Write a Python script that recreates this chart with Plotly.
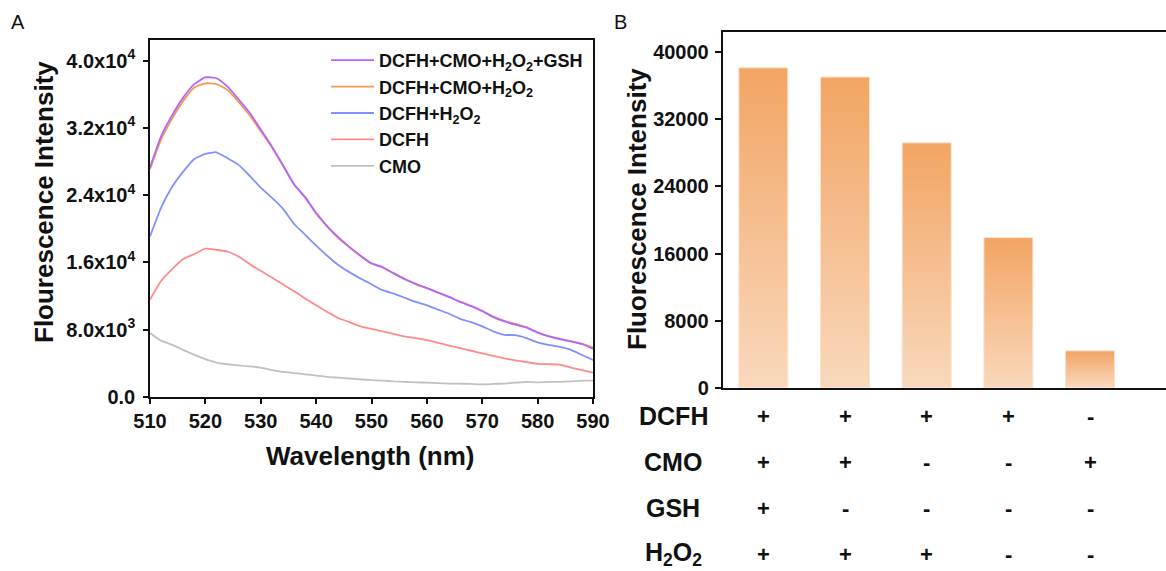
import plotly.graph_objects as go

# ---------------- Data ----------------
wavelength = [510, 512, 514, 516, 518, 520, 522, 524, 526, 528, 530, 532, 534, 536, 538,
              540, 542, 544, 546, 548, 550, 552, 554, 556, 558, 560, 562, 564, 566, 568,
              570, 572, 574, 576, 578, 580, 582, 584, 586, 588, 590]

dcfh_cmo_h2o2_gsh = [27300, 31000, 33500, 35600, 37200, 38000, 37900, 36900, 35400, 33800,
                     31800, 29800, 27600, 25300, 23800, 21900, 20300, 19000, 17850, 16800,
                     15900, 15450, 14700, 14000, 13450, 12950, 12400, 11900, 11300, 10800,
                     10200, 9500, 9000, 8600, 8250, 7650, 7200, 6870, 6600, 6300, 5700]

dcfh_cmo_h2o2 = [27100, 30600, 33100, 35200, 36800, 37300, 37200, 36500, 35100, 33500,
                 31600, 29700, 27500, 25300, 23700, 21800, 20300, 18900, 17800, 16800,
                 15850, 15400, 14700, 14050, 13400, 12950, 12450, 11900, 11350, 10850,
                 10250, 9550, 9050, 8700, 8300, 7700, 7250, 6950, 6650, 6350, 5900]

dcfh_h2o2 = [19100, 22500, 25000, 26800, 28300, 28900, 29100, 28400, 27600, 26300,
             24900, 23700, 22400, 20600, 19300, 18000, 16800, 15700, 14850, 14100,
             13400, 12700, 12300, 11800, 11300, 10900, 10400, 9900, 9300, 8900,
             8400, 7800, 7400, 7350, 7000, 6500, 6200, 5950, 5600, 5000, 4400]

dcfh = [11600, 13800, 15200, 16400, 17000, 17650, 17500, 17300, 16700, 15800,
        15000, 14200, 13400, 12600, 11700, 10900, 10100, 9400, 8900, 8400,
        8100, 7800, 7500, 7200, 7000, 6750, 6450, 6100, 5800, 5500,
        5200, 4900, 4600, 4350, 4150, 3950, 3900, 3850, 3500, 3200, 2900]

cmo = [7600, 6700, 6200, 5600, 5000, 4500, 4100, 3900, 3750, 3650,
       3500, 3200, 3000, 2850, 2700, 2550, 2400, 2300, 2200, 2100,
       2000, 1950, 1850, 1800, 1750, 1700, 1650, 1600, 1600, 1550,
       1500, 1550, 1600, 1700, 1800, 1750, 1800, 1800, 1850, 1950, 1950]

series_names = ["DCFH+CMO+H<sub>2</sub>O<sub>2</sub>+GSH", "DCFH+CMO+H<sub>2</sub>O<sub>2</sub>",
                "DCFH+H<sub>2</sub>O<sub>2</sub>", "DCFH", "CMO"]
series_colors = ["#B266FF", "#F39B4F", "#8090FF", "#FF8A8A", "#C0C0C0"]

a_ytickvals = [0, 8000, 16000, 24000, 32000, 40000]
a_yticktext = ["0.0", "8.0x10<sup>3</sup>", "1.6x10<sup>4</sup>", "2.4x10<sup>4</sup>",
               "3.2x10<sup>4</sup>", "4.0x10<sup>4</sup>"]
a_xtickvals = [510, 520, 530, 540, 550, 560, 570, 580, 590]

bar_values = [38150, 37050, 29200, 17900, 4400]
b_ytickvals = [0, 8000, 16000, 24000, 32000, 40000]
b_yticktext = ["0", "8000", "16000", "24000", "32000", "40000"]

row_labels = ["DCFH", "CMO", "GSH", "H<sub>2</sub>O<sub>2</sub>"]
row_signs = [["+", "+", "+", "+", "-"],
             ["+", "+", "-", "-", "+"],
             ["+", "-", "-", "-", "-"],
             ["+", "+", "+", "-", "-"]]

# ---------------- Layout constants ----------------
W, H = 1166, 571
FONT = "Liberation Sans, Arial, sans-serif"

def px_x(p):
    return p / W

def px_y(p):
    return 1 - p / H

fig = go.Figure()

all_series = [dcfh_cmo_h2o2_gsh, dcfh_cmo_h2o2, dcfh_h2o2, dcfh, cmo]
for idx in reversed(range(len(all_series))):
    fig.add_trace(go.Scatter(
        x=wavelength, y=all_series[idx], mode="lines", name=series_names[idx],
        line=dict(color=series_colors[idx], width=1.8, shape="spline", smoothing=0.5),
        legendrank=idx + 1, xaxis="x", yaxis="y"))

for i, v in enumerate(bar_values):
    hw = 0.3
    fig.add_trace(go.Scatter(
        x=[i - hw, i + hw, i + hw, i - hw, i - hw], y=[0, 0, v, v, 0],
        mode="lines", fill="toself", showlegend=False,
        line=dict(color="#FCE3CE", width=1),
        fillgradient=dict(type="vertical", start=0, stop=v,
                          colorscale=[[0, "#F9D8BC"], [0.55, "#F5BC8C"], [1, "#F2A563"]]),
        xaxis="x2", yaxis="y2", hoverinfo="skip"))

axis_font = dict(family=FONT, size=20, color="#111", weight="bold")

fig.update_layout(
    template="none",
    width=W, height=H, margin=dict(l=0, r=0, t=0, b=0, pad=0, autoexpand=False),
    paper_bgcolor="white", plot_bgcolor="white",
    font=dict(family=FONT, color="#111"),
    xaxis=dict(domain=[px_x(150), px_x(593)], range=[510, 590], tickvals=a_xtickvals,
               showline=True, linecolor="#111", linewidth=1.5, mirror=True,
               ticks="outside", ticklen=5, tickwidth=1.5, tickcolor="#111",
               showgrid=False, zeroline=False, tickfont=axis_font, anchor="y",
               automargin=False),
    yaxis=dict(domain=[px_y(397), px_y(40)], range=[0, 42450], tickvals=a_ytickvals,
               ticktext=a_yticktext, showline=True, linecolor="#111", linewidth=1.5,
               mirror=True, ticks="outside", ticklen=5, tickwidth=1.5, tickcolor="#111",
               showgrid=False, zeroline=False, tickfont=axis_font, anchor="x",
               automargin=False, ticklabelstandoff=4),
    xaxis2=dict(domain=[px_x(722.5), 1.0], range=[-0.5, 4.93], showticklabels=False,
                showline=True, linecolor="#111", linewidth=1.5, mirror=True,
                ticks="", showgrid=False, zeroline=False, anchor="y2", automargin=False,
                layer="above traces"),
    yaxis2=dict(domain=[px_y(387.7), px_y(31.7)], range=[0, 42450], tickvals=b_ytickvals,
                ticktext=b_yticktext,
                showline=True, linecolor="#111", linewidth=1.5, mirror=False,
                ticks="outside", ticklen=6, tickwidth=1.5, tickcolor="#111",
                showgrid=False, zeroline=False,
                tickfont=dict(family=FONT, size=20, color="#111", weight="bold"),
                anchor="x2", automargin=False, ticklabelstandoff=2),
    legend=dict(x=px_x(326), y=px_y(42), xanchor="left", yanchor="top",
                bgcolor="rgba(0,0,0,0)", borderwidth=0, tracegroupgap=0,
                itemwidth=43,
                font=dict(family=FONT, size=18, color="#111", weight="bold")),
    showlegend=True,
)

annotations = []

def ann(text, x, y, font, xref="paper", angle=0):
    annotations.append(dict(text=text, x=x, y=y, xref=xref, yref="paper",
                            xanchor="center", yanchor="middle", textangle=angle,
                            showarrow=False, font=font))

letter_font = dict(family=FONT, size=20, color="#111")
ann("A", px_x(18), px_y(22), letter_font)
ann("B", px_x(620), px_y(22), letter_font)

title_font = dict(family=FONT, size=26, color="#111", weight="bold")
ann("Flourescence Intensity", px_x(44), px_y(202), title_font, angle=-90)
ann("Wavelength (nm)", px_x(370), px_y(456), title_font)
ann("Fluorescence Intensity", px_x(637), px_y(209), title_font, angle=-90)

row_y = [416, 462, 508, 554]
label_font = dict(family=FONT, size=25, color="#111", weight="bold")
sign_font = dict(family=FONT, size=22, color="#111", weight="bold")
for r, lab in enumerate(row_labels):
    ann(lab, px_x(673), px_y(row_y[r]), label_font)
    for c, s in enumerate(row_signs[r]):
        ann(s, c, px_y(row_y[r]), sign_font, xref="x2")
fig.update_layout(annotations=annotations)

fig.write_html("out.html")
